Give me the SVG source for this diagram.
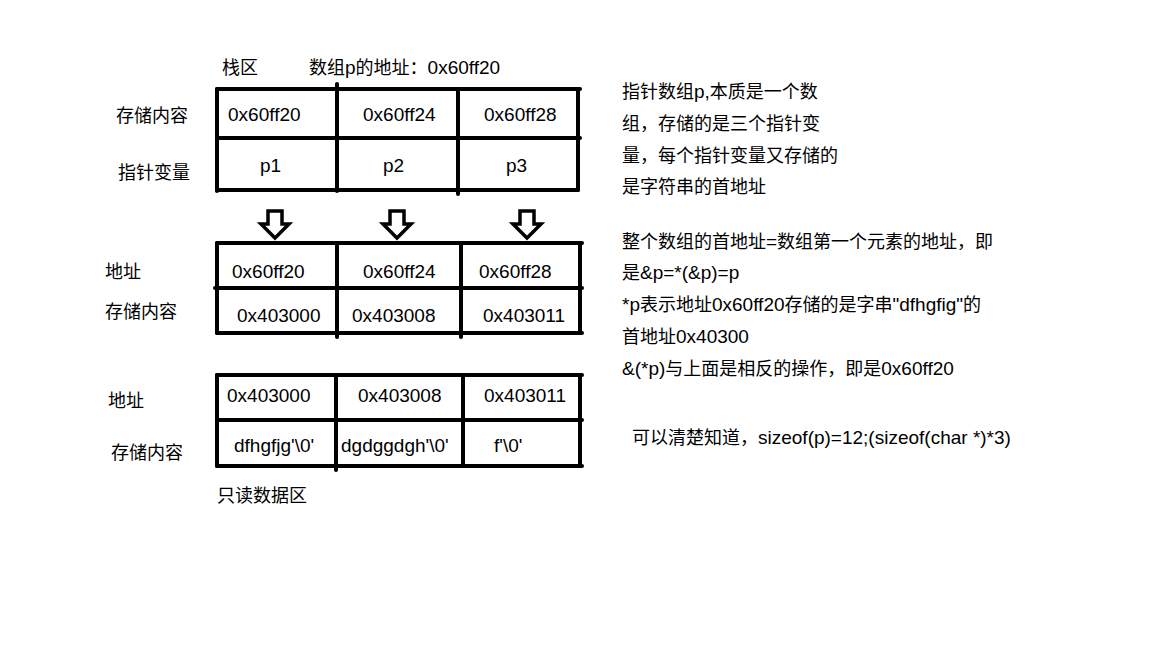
<svg xmlns="http://www.w3.org/2000/svg" width="1152" height="648" viewBox="0 0 1152 648">
<defs>
<style>
text{font-family:"Liberation Sans","Noto Sans CJK SC",sans-serif;font-size:19px;fill:#000}
.c{font-family:"Noto Sans CJK SC","Microsoft YaHei",sans-serif;font-size:18px}
.g line{stroke:#000;stroke-width:4;stroke-linecap:round}
.arr{fill:#fff;stroke:#000;stroke-width:3.5;stroke-linejoin:miter}
</style>
</defs>
<rect width="1152" height="648" fill="#fff"/>

<g id="stack-table" class="g">
<text x="222" y="74" class="c">栈区</text>
<text x="309" y="74"><tspan class="c">数组</tspan>p<tspan class="c">的地址：</tspan>0x60ff20</text>
<line x1="217" y1="89" x2="580" y2="89"/>
<line x1="217" y1="89" x2="217" y2="191"/>
<line x1="217" y1="138" x2="580" y2="138"/>
<line x1="217" y1="190" x2="578" y2="190"/>
<line x1="578" y1="89" x2="578" y2="190"/>
<line x1="337" y1="84" x2="337" y2="191"/>
<line x1="458" y1="89" x2="458" y2="194"/>
<text x="116" y="122" class="c">存储内容</text>
<text x="118" y="179" class="c">指针变量</text>
<text x="228" y="121">0x60ff20</text>
<text x="363" y="121">0x60ff24</text>
<text x="484" y="121">0x60ff28</text>
<text x="260" y="172">p1</text>
<text x="383" y="172">p2</text>
<text x="506" y="172">p3</text>
</g>

<g id="connectors">
<polygon class="arr" points="268,211 282,211 282,224 289,224 275,238 261,224 268,224"/>
<polygon class="arr" points="390,211 404,211 404,224 411,224 397,238 383,224 390,224"/>
<polygon class="arr" points="520,211 534,211 534,224 541,224 527,238 513,224 520,224"/>
</g>

<g id="pointer-table" class="g">
<line x1="217" y1="243" x2="582" y2="243"/>
<line x1="217" y1="243" x2="217" y2="333"/>
<line x1="215" y1="288" x2="582" y2="288"/>
<line x1="217" y1="333" x2="582" y2="333"/>
<line x1="580" y1="243" x2="580" y2="333"/>
<line x1="337" y1="243" x2="337" y2="337"/>
<line x1="461" y1="243" x2="461" y2="337"/>
<text x="105" y="278" class="c">地址</text>
<text x="105" y="318" class="c">存储内容</text>
<text x="232" y="278">0x60ff20</text>
<text x="363" y="278">0x60ff24</text>
<text x="479" y="278">0x60ff28</text>
<text x="237" y="322">0x403000</text>
<text x="352" y="322">0x403008</text>
<text x="483" y="322">0x403011</text>
</g>

<g id="readonly-table" class="g">
<line x1="217" y1="375" x2="582" y2="375"/>
<line x1="217" y1="375" x2="217" y2="466"/>
<line x1="217" y1="420" x2="582" y2="420"/>
<line x1="217" y1="466" x2="582" y2="466"/>
<line x1="580" y1="375" x2="580" y2="466"/>
<line x1="336" y1="375" x2="336" y2="470"/>
<line x1="463" y1="375" x2="463" y2="466"/>
<text x="108" y="407" class="c">地址</text>
<text x="111" y="459" class="c">存储内容</text>
<text x="227" y="402">0x403000</text>
<text x="358" y="402">0x403008</text>
<text x="484" y="402">0x403011</text>
<text x="234" y="452">dfhgfjg'\0'</text>
<text x="341" y="452">dgdggdgh'\0'</text>
<text x="494" y="452">f'\0'</text>
<text x="217" y="502" class="c">只读数据区</text>
</g>

<g id="notes">
<text x="622" y="98"><tspan class="c">指针数组</tspan>p,<tspan class="c">本质是一个数</tspan></text>
<text x="622" y="130" class="c">组，存储的是三个指针变</text>
<text x="622" y="162" class="c">量，每个指针变量又存储的</text>
<text x="622" y="193" class="c">是字符串的首地址</text>
<text x="622" y="248"><tspan class="c">整个数组的首地址</tspan>=<tspan class="c">数组第一个元素的地址，即</tspan></text>
<text x="622" y="279"><tspan class="c">是</tspan>&amp;p=*(&amp;p)=p</text>
<text x="622" y="311">*p<tspan class="c">表示地址</tspan>0x60ff20<tspan class="c">存储的是字串</tspan>"dfhgfig"<tspan class="c">的</tspan></text>
<text x="622" y="343"><tspan class="c">首地址</tspan>0x40300</text>
<text x="622" y="375">&amp;(*p)<tspan class="c">与上面是相反的操作，即是</tspan>0x60ff20</text>
<text x="632" y="444"><tspan class="c">可以清楚知道，</tspan>sizeof(p)=12;(sizeof(char *)*3)</text>
</g>
</svg>
